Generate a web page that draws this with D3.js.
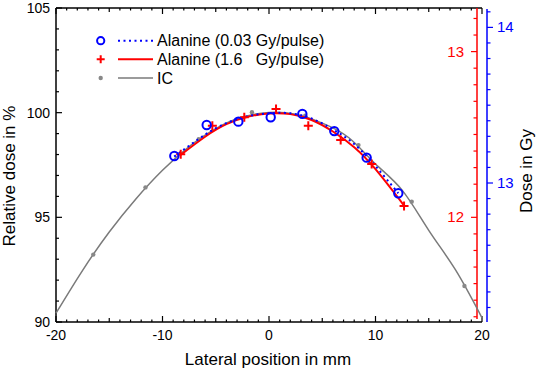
<!DOCTYPE html>
<html>
<head>
<meta charset="utf-8">
<script src="https://cdn.jsdelivr.net/npm/d3@7"></script>
<style>
  body { margin: 0; background: #fff; }
  text { font-family: "Liberation Sans", Arial, sans-serif; }
</style>
</head>
<body>
<div id="chart"></div>
<script>
// IC measurement points (mm, %)
var icX = [-16.5, -11.6, -6.6, -1.6, 3.4, 8.4, 13.4, 18.35];
var icY = [93.22, 96.43, 98.73, 100.02, 99.85, 98.45, 95.75, 91.72];
// IC smooth curve
var icCurveX = [-20, -17.5, -15, -12.5, -10, -7.5, -5, -2.5, 0, 2.5, 5, 7.5, 10, 12.5, 15, 17.5, 20];
var icCurveY = [90.42, 92.47, 94.3, 95.88, 97.25, 98.38, 99.24, 99.79, 100.01, 99.92, 99.5, 98.8, 97.55, 96.3, 94.38, 92.5, 90.2];

// Alanine 0.03 Gy/pulse (blue circles) and its fit
var alaLowX = [-8.89, -5.85, -2.88, 0.16, 3.13, 6.13, 9.17, 12.14];
var alaLowY = [97.93, 99.41, 99.57, 99.78, 99.94, 99.12, 97.85, 96.15];
var alaLowFitX = [-8.9, -6, -4, -2, 0, 2, 4, 6, 8, 10, 12.14];
var alaLowFitY = [97.9, 98.95, 99.5, 99.83, 99.97, 99.97, 99.72, 99.2, 98.5, 97.45, 96.15];

// Alanine 1.6 Gy/pulse (red crosses) and its fit
var alaHighX = [-8.29, -5.32, -2.32, 0.66, 3.69, 6.73, 9.64, 12.68];
var alaHighY = [98.01, 99.38, 99.78, 100.17, 99.38, 98.69, 97.55, 95.54];
var alaHighFitX = [-8.3, -6, -4, -2, 0, 2, 4, 6, 8, 10, 12.7];
var alaHighFitY = [97.98, 98.85, 99.45, 99.8, 99.96, 99.93, 99.65, 99.1, 98.35, 97.3, 95.55];

var xTicks = [-20, -10, 0, 10, 20];
var xTickLabels = ["-20", "-10", "0", "10", "20"];
var yTicks = [90, 95, 100, 105];
var yTickLabels = ["90", "95", "100", "105"];
var redTicks = [12, 13];
var redTickLabels = ["12", "13"];
var blueTicks = [13, 14];
var blueTickLabels = ["13", "14"];

var legendLabels = ["Alanine (0.03 Gy/pulse)", "Alanine (1.6   Gy/pulse)", "IC"];

function init() {
  var w = 536, h = 371;
  var left = 56, right = 482, top = 8, bottom = 322;

  var svg = d3.select("#chart").append("svg")
    .attr("width", w).attr("height", h);

  var x = d3.scaleLinear().domain([-20, 20]).range([left, right]);
  var y = d3.scaleLinear().domain([90, 105]).range([bottom, top]);
  // dose axes are proportional to the relative dose
  var kRed = 12 / 95, kBlue = 13 / 96.64;
  var yRed = d3.scaleLinear().domain([90 * kRed, 105 * kRed]).range([bottom, top]);
  var yBlue = d3.scaleLinear().domain([90 * kBlue, 105 * kBlue]).range([bottom, top]);

  var red = "#ff0000", blue = "#0000ff", grey = "#7a7a7a";

  // minor tick helper
  function range(a, b, s) {
    var out = [];
    for (var v = a; v <= b + 1e-9; v += s) out.push(Math.round(v * 100) / 100);
    return out;
  }

  // ---- frame: left, bottom, top
  var xMinor = range(-20, 20, 1);
  function xLen(v) { return v % 10 === 0 ? 6 : (v % 5 === 0 ? 4 : 2.5); }

  var gx = svg.append("g");
  gx.append("line").attr("x1", left).attr("x2", right).attr("y1", bottom).attr("y2", bottom)
    .attr("stroke", "#000").attr("stroke-width", 1.5);
  gx.append("line").attr("x1", left).attr("x2", right).attr("y1", top).attr("y2", top)
    .attr("stroke", "#000").attr("stroke-width", 1.5);
  gx.selectAll(".tb").data(xMinor).enter().append("line")
    .attr("x1", function(d) { return x(d); }).attr("x2", function(d) { return x(d); })
    .attr("y1", bottom).attr("y2", function(d) { return bottom - xLen(d); })
    .attr("stroke", "#000").attr("stroke-width", 1.2);
  gx.selectAll(".tt").data(xMinor).enter().append("line")
    .attr("x1", function(d) { return x(d); }).attr("x2", function(d) { return x(d); })
    .attr("y1", top).attr("y2", function(d) { return top + xLen(d); })
    .attr("stroke", "#000").attr("stroke-width", 1.2);
  gx.selectAll(".lx").data(xTicks).enter().append("text")
    .attr("x", function(d) { return x(d); }).attr("y", 340)
    .attr("text-anchor", "middle").attr("font-size", 14)
    .text(function(d, i) { return xTickLabels[i]; });

  var yMinor = range(90, 105, 1);
  var gy = svg.append("g");
  gy.append("line").attr("x1", left).attr("x2", left).attr("y1", top).attr("y2", bottom)
    .attr("stroke", "#000").attr("stroke-width", 1.5);
  gy.selectAll(".ty").data(yMinor).enter().append("line")
    .attr("x1", left).attr("x2", function(d) { return left + (d % 5 === 0 ? 6 : 3); })
    .attr("y1", function(d) { return y(d); }).attr("y2", function(d) { return y(d); })
    .attr("stroke", "#000").attr("stroke-width", 1.2);
  gy.selectAll(".ly").data(yTicks).enter().append("text")
    .attr("x", 50).attr("y", function(d) { return y(d) + 5; })
    .attr("text-anchor", "end").attr("font-size", 14)
    .text(function(d, i) { return yTickLabels[i]; });

  // ---- red dose axis
  var redX = 477;
  var gr = svg.append("g");
  gr.append("line").attr("x1", redX).attr("x2", redX).attr("y1", top).attr("y2", bottom - 3)
    .attr("stroke", red).attr("stroke-width", 1.5);
  gr.selectAll(".tr").data(range(11.4, 13.2, 0.1)).enter().append("line")
    .attr("x1", redX).attr("x2", function(d) { return redX - (Math.abs(d - Math.round(d)) < 1e-6 ? 6 : 3.5); })
    .attr("y1", function(d) { return yRed(d); }).attr("y2", function(d) { return yRed(d); })
    .attr("stroke", red).attr("stroke-width", 1.2);
  gr.selectAll(".lr").data(redTicks).enter().append("text")
    .attr("x", 464).attr("y", function(d) { return yRed(d) + 5; })
    .attr("text-anchor", "end").attr("font-size", 15).attr("fill", red)
    .text(function(d, i) { return redTickLabels[i]; });

  // ---- blue dose axis
  var blueX = 487;
  var gb = svg.append("g");
  gb.append("line").attr("x1", blueX).attr("x2", blueX).attr("y1", top + 1).attr("y2", bottom)
    .attr("stroke", blue).attr("stroke-width", 1.5);
  gb.selectAll(".tbl").data(range(12.2, 14.1, 0.1)).enter().append("line")
    .attr("x1", blueX).attr("x2", function(d) { return blueX + (Math.abs(d - Math.round(d)) < 1e-6 ? 6 : 3.5); })
    .attr("y1", function(d) { return yBlue(d); }).attr("y2", function(d) { return yBlue(d); })
    .attr("stroke", blue).attr("stroke-width", 1.2);
  gb.selectAll(".lb").data(blueTicks).enter().append("text")
    .attr("x", 497).attr("y", function(d) { return yBlue(d) + 5; })
    .attr("font-size", 15).attr("fill", blue)
    .text(function(d, i) { return blueTickLabels[i]; });

  // ---- axis titles
  svg.append("text").attr("transform", "translate(268,365)")
    .attr("text-anchor", "middle").attr("font-size", 17).text("Lateral position in mm");
  svg.append("text").attr("transform", "translate(15,176) rotate(-90)")
    .attr("text-anchor", "middle").attr("font-size", 17).text("Relative dose in %");
  svg.append("text").attr("transform", "translate(532,171) rotate(-90)")
    .attr("text-anchor", "middle").attr("font-size", 17).text("Dose in Gy");

  // ---- curves
  var line = d3.line()
    .x(function(d) { return x(d[0]); })
    .y(function(d) { return y(d[1]); })
    .curve(d3.curveNatural);
  function zip(a, b) { return a.map(function(v, i) { return [v, b[i]]; }); }

  var plot = svg.append("g");
  plot.append("path").datum(zip(icCurveX, icCurveY)).attr("d", line)
    .attr("fill", "none").attr("stroke", grey).attr("stroke-width", 1.5);
  plot.selectAll(".ic").data(zip(icX, icY)).enter().append("circle")
    .attr("cx", function(d) { return x(d[0]); }).attr("cy", function(d) { return y(d[1]); })
    .attr("r", 2.2).attr("fill", "#888");
  plot.append("path").datum(zip(alaHighFitX, alaHighFitY)).attr("d", line)
    .attr("fill", "none").attr("stroke", red).attr("stroke-width", 2);
  plot.append("path").datum(zip(alaLowFitX, alaLowFitY)).attr("d", line)
    .attr("fill", "none").attr("stroke", blue).attr("stroke-width", 2)
    .attr("stroke-dasharray", "2,3.5");

  function cross(sel, s) {
    sel.append("path").attr("d", "M" + (-s) + ",0H" + s + "M0," + (-s) + "V" + s)
      .attr("stroke", red).attr("stroke-width", 2).attr("fill", "none");
  }
  plot.selectAll(".hi").data(zip(alaHighX, alaHighY)).enter().append("g")
    .attr("transform", function(d) { return "translate(" + x(d[0]) + "," + y(d[1]) + ")"; })
    .call(cross, 4.5);
  plot.selectAll(".lo").data(zip(alaLowX, alaLowY)).enter().append("circle")
    .attr("cx", function(d) { return x(d[0]); }).attr("cy", function(d) { return y(d[1]); })
    .attr("r", 4.2).attr("fill", "none").attr("stroke", blue).attr("stroke-width", 2);

  // ---- legend
  var rowsY = [40.7, 59.3, 78];
  var lg = svg.append("g");
  lg.append("circle").attr("cx", 100.7).attr("cy", rowsY[0]).attr("r", 3.6)
    .attr("fill", "none").attr("stroke", blue).attr("stroke-width", 2);
  lg.append("line").attr("x1", 118).attr("x2", 153).attr("y1", rowsY[0]).attr("y2", rowsY[0])
    .attr("stroke", blue).attr("stroke-width", 2).attr("stroke-dasharray", "2,3.5");
  lg.append("g").attr("transform", "translate(100.7," + rowsY[1] + ")").call(cross, 4);
  lg.append("line").attr("x1", 118).attr("x2", 153).attr("y1", rowsY[1]).attr("y2", rowsY[1])
    .attr("stroke", red).attr("stroke-width", 2);
  lg.append("circle").attr("cx", 100.7).attr("cy", rowsY[2]).attr("r", 2.2).attr("fill", "#888");
  lg.append("line").attr("x1", 118).attr("x2", 153).attr("y1", rowsY[2]).attr("y2", rowsY[2])
    .attr("stroke", grey).attr("stroke-width", 1.5);
  lg.selectAll(".lt").data(legendLabels).enter().append("text")
    .attr("x", 157).attr("y", function(d, i) { return rowsY[i] + 5.7; })
    .attr("font-size", 16).attr("xml:space", "preserve").style("white-space", "pre")
    .text(function(d) { return d; });
}

window.onload = init;
</script>
</body>
</html>
